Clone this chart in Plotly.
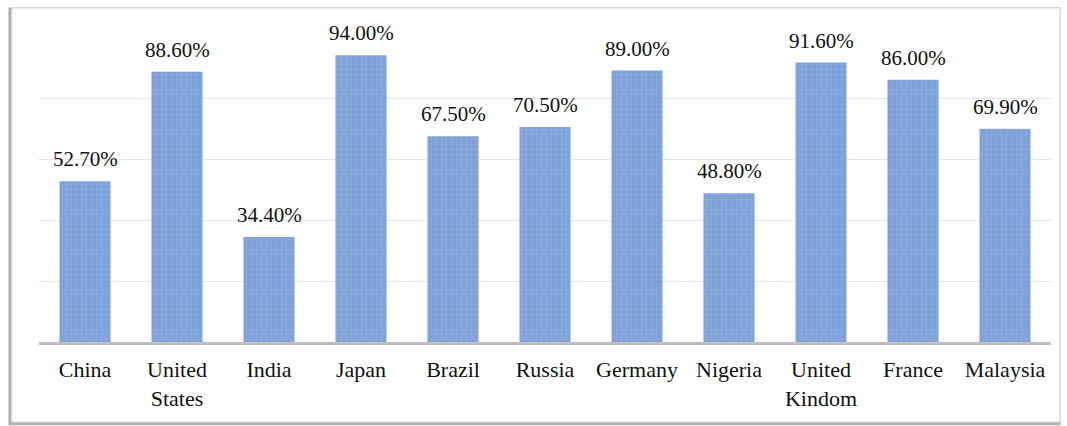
import plotly.graph_objects as go

categories = ["China", "United<br>States", "India", "Japan", "Brazil", "Russia",
              "Germany", "Nigeria", "United<br>Kindom", "France", "Malaysia"]
values = [52.7, 88.6, 34.4, 94.0, 67.5, 70.5, 89.0, 48.8, 91.6, 86.0, 69.9]
labels = [f"{v:.2f}%" for v in values]

FONT = "Liberation Serif"

fig = go.Figure()
fig.add_trace(go.Bar(
    x=categories, y=values,
    marker=dict(color="#7ea2d7", line=dict(width=0),
                pattern=dict(shape="+", size=5, solidity=0.15, fgcolor="#a8c1e8")),
    hoverinfo="skip",
))

for c, v, t in zip(categories, values, labels):
    fig.add_annotation(x=c, y=v, text=t, showarrow=False, yanchor="bottom",
                       yshift=8, font=dict(family=FONT, size=21, color="#111111"))

# outer frame with shadow
fig.add_shape(type="rect", xref="paper", yref="paper",
              x0=-0.0287, x1=1.0079, y0=-0.268, y1=1.092,
              line=dict(color="#b0b0b0", width=3), layer="below")
fig.add_shape(type="rect", xref="paper", yref="paper",
              x0=-0.0267, x1=1.0089, y0=-0.262, y1=1.095,
              line=dict(color="#d9d9d9", width=1), fillcolor="white", layer="below")

fig.update_layout(
    width=1067, height=426,
    margin=dict(l=39, r=16, t=37, b=84),
    paper_bgcolor="white", plot_bgcolor="white",
    bargap=0.445, showlegend=False,
    font=dict(family=FONT, size=21, color="#111111"),
)
fig.update_xaxes(showline=True, linecolor="#bfbfbf", linewidth=3,
                 ticks="outside", ticklen=6, tickcolor="rgba(0,0,0,0)",
                 tickfont=dict(family=FONT, size=22, color="#111111"),
                 showgrid=False, fixedrange=True)
fig.update_yaxes(range=[0, 100], dtick=20, showgrid=True, gridcolor="#e6e6e6",
                 gridwidth=1, showticklabels=False, zeroline=False, fixedrange=True)

fig.write_html("out.html")
